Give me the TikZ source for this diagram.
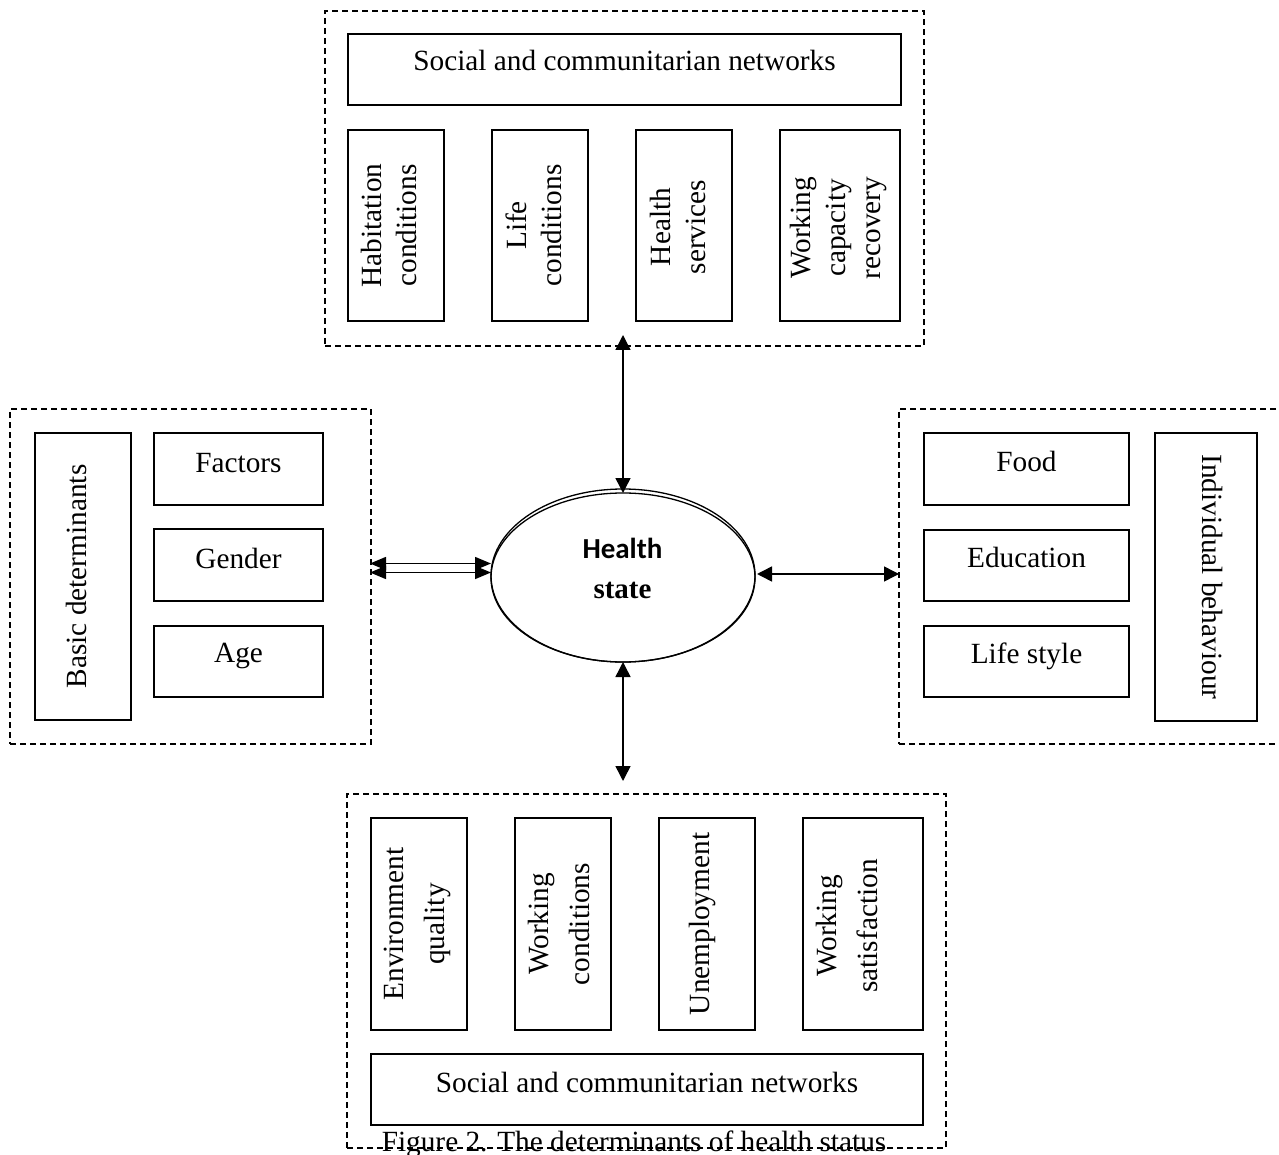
\documentclass[tikz,border=0pt]{standalone}
\usepackage{fontspec}
\setmainfont{Liberation Serif}
\newfontfamily\calibfont{Carlito}
\usetikzlibrary{arrows.meta,shapes.geometric}
\begin{document}
\begin{tikzpicture}[x=1pt,y=-1pt,
  box/.style={draw, line width=1.7pt, inner sep=0pt, outer sep=0pt},
  grp/.style={draw, line width=1.3pt, dash pattern=on 6pt off 4pt, inner sep=0pt, outer sep=0pt},
  txt/.style={font=\fontsize{29.3}{35}\selectfont, inner sep=0pt},
  vtxt/.style={txt, align=center, rotate=90},
  vtxtb/.style={font=\fontsize{29.3}{41}\selectfont, inner sep=0pt, align=center, rotate=90},
  arr/.style={line width=1.5pt, {Triangle[length=15pt,width=15pt]}-{Triangle[length=15pt,width=15pt]}},
  arrs/.style={line width=1.5pt, {Triangle[length=16pt,width=13pt]}-{Triangle[length=16pt,width=13pt]}},
  ell/.style={draw, ellipse, line width=1.3pt, inner sep=0pt, outer sep=0pt}
]
\useasboundingbox (0,0) rectangle (1279,1155);
\fill[white] (0,0) rectangle (1279,1155);

% ---- top group
\node[grp, minimum width=599pt, minimum height=335pt] (topgrp) at (624.5,178.5) {};
\node[box, minimum width=553pt, minimum height=71pt] (topsoc) at (624.5,69.5) {};
\node[box, minimum width=96pt, minimum height=191pt] (hab) at (396,225.5) {};
\node[box, minimum width=96pt, minimum height=191pt] (life) at (540,225.5) {};
\node[box, minimum width=96pt, minimum height=191pt] (hserv) at (684,225.5) {};
\node[box, minimum width=120pt, minimum height=191pt] (work) at (840,225.5) {};
\node[txt, anchor=base] (ttopsoc) at (624.5,71) {Social and communitarian networks};
\node[vtxt] (thab) at (388.5,225.5) {Habitation\\conditions};
\node[vtxt] (tlife) at (533.5,225.5) {Life\\conditions};
\node[vtxt] (thserv) at (678,227) {Health\\services};
\node[vtxt] (twork) at (838,228) {Working\\capacity\\recovery};

% ---- left group
\node[grp, minimum width=361pt, minimum height=335pt] (leftgrp) at (190.5,576.5) {};
\node[box, minimum width=96pt, minimum height=287pt] (basic) at (83,576.5) {};
\node[box, minimum width=169pt, minimum height=72pt] (factors) at (238.5,469) {};
\node[box, minimum width=169pt, minimum height=72pt] (gender) at (238.5,565) {};
\node[box, minimum width=169pt, minimum height=71pt] (age) at (238.5,661.5) {};
\node[vtxt] (tbasic) at (76,576.5) {Basic determinants};
\node[txt, anchor=base] (tfactors) at (238.5,472) {Factors};
\node[txt, anchor=base] (tgender) at (238.5,568) {Gender};
\node[txt, anchor=base] (tage) at (238.5,662) {Age};

% ---- right group
\node[grp, minimum width=401pt, minimum height=335pt] (rightgrp) at (1099.5,576.5) {};
\node[box, minimum width=205pt, minimum height=72pt] (food) at (1026.5,469) {};
\node[box, minimum width=205pt, minimum height=71pt] (educ) at (1026.5,565.5) {};
\node[box, minimum width=205pt, minimum height=71pt] (lstyle) at (1026.5,661.5) {};
\node[box, minimum width=102pt, minimum height=288pt] (indiv) at (1206,577) {};
\node[txt, anchor=base] (tfood) at (1026.5,471) {Food};
\node[txt, anchor=base] (teduc) at (1026.5,567) {Education};
\node[txt, anchor=base] (tlstyle) at (1026.5,663) {Life style};
\node[txt, rotate=-90] (tindiv) at (1213,577) {Individual behaviour};

% ---- bottom group
\node[grp, minimum width=599pt, minimum height=354pt] (botgrp) at (646.5,971) {};
\node[box, minimum width=96pt, minimum height=212pt] (env) at (419,924) {};
\node[box, minimum width=96pt, minimum height=212pt] (wcond) at (563,924) {};
\node[box, minimum width=96pt, minimum height=212pt] (unemp) at (707,924) {};
\node[box, minimum width=120pt, minimum height=212pt] (wsat) at (863,924) {};
\node[box, minimum width=552pt, minimum height=71pt] (botsoc) at (647,1089.5) {};
\node[vtxtb] (tenv) at (417.5,924) {Environment\\quality};
\node[vtxtb] (twcond) at (558.5,924) {Working\\conditions};
\node[vtxtb] (tunemp) at (702,924) {Unemployment};
\node[vtxtb] (twsat) at (846.5,926) {Working\\satisfaction};
\node[txt, anchor=base] (tbotsoc) at (647,1092) {Social and communitarian networks};
\node[txt, anchor=base] (caption) at (634,1151) {Figure 2. The determinants of health status};

% ---- centre
\node[ell, minimum width=264pt, minimum height=173pt] (hs) at (623,575.5) {};
\node[ell, minimum width=264pt, minimum height=169pt] (hs2) at (623,577.5) {};
\node[inner sep=0pt, anchor=base, font=\calibfont\bfseries\fontsize{29}{34}\selectfont] (th1) at (622.5,558) {Health};
\node[inner sep=0pt, anchor=base, font=\bfseries\fontsize{29}{34}\selectfont] (th2) at (622.5,598) {state};

% ---- connectors
\coordinate (ttip) at (623,335);
\draw[arr] (ttip) -- (hs2.north);
\coordinate (btip) at (623,781);
\draw[arr] (hs.south) -- (btip);
\coordinate (l1) at (370,563.5);
\coordinate (l2) at (370,572.5);
\coordinate (r1) at (491,563.5);
\coordinate (r2) at (491,572.5);
\draw[arrs] (l1) -- (r1);
\draw[arrs] (l2) -- (r2);
\coordinate (ra) at (757,574);
\draw[arr] (ra) -- (rightgrp.west |- ra);
\end{tikzpicture}
\end{document}
